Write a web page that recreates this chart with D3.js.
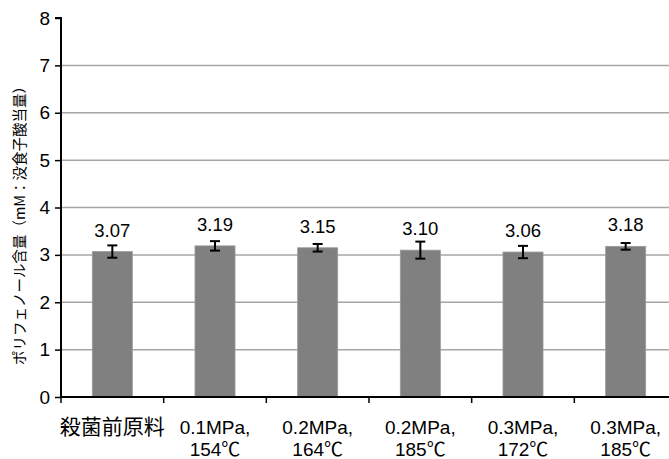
<!DOCTYPE html>
<html><head><meta charset="utf-8">
<script src="https://cdn.jsdelivr.net/npm/d3@7"></script>
<style>body{margin:0;background:#fff}svg{display:block}</style>
</head><body>
<svg id="c" width="669" height="459"></svg>
<script>
const categories = [["殺菌前原料"],["0.1MPa,","154℃"],["0.2MPa,","164℃"],["0.2MPa,","185℃"],["0.3MPa,","172℃"],["0.3MPa,","185℃"]];
const values = [3.07, 3.19, 3.15, 3.10, 3.06, 3.18];
const errors = [0.13, 0.10, 0.08, 0.18, 0.13, 0.07];
const yTicks = [0,1,2,3,4,5,6,7,8];
const yTitle = "ポリフェノール含量（mM：没食子酸当量）";

const svg = d3.select("#c");
const font = "'Liberation Sans','Noto Sans CJK JP',sans-serif";
const L = 61, R = 677, T = 18, B = 397;
const x = d3.scaleBand().domain(d3.range(categories.length)).range([L, R]).paddingInner(0.61).paddingOuter(0.305);
const y = d3.scaleLinear().domain([0, 8]).range([B, T]);

// gridlines
svg.append("g").selectAll("line").data(yTicks.filter(d => d > 0 && d < 8)).join("line")
  .attr("x1", L).attr("x2", 669).attr("y1", d => y(d)).attr("y2", d => y(d))
  .attr("stroke", "#a6a6a6").attr("stroke-width", 1.5);

// bars
svg.append("g").selectAll("rect").data(values).join("rect")
  .attr("x", (d, i) => x(i)).attr("width", x.bandwidth())
  .attr("y", d => y(d)).attr("height", d => B - y(d))
  .attr("fill", "#808080").attr("stroke", "#9a9a9a").attr("stroke-width", 0.8);

// error bars
const eg = svg.append("g").attr("stroke", "#000").attr("stroke-width", 2);
values.forEach((v, i) => {
  const cx = x(i) + x.bandwidth() / 2;
  eg.append("line").attr("x1", cx).attr("x2", cx).attr("y1", y(v + errors[i])).attr("y2", y(v - errors[i]));
  eg.append("line").attr("x1", cx - 5).attr("x2", cx + 5).attr("y1", y(v + errors[i])).attr("y2", y(v + errors[i]));
  eg.append("line").attr("x1", cx - 5).attr("x2", cx + 5).attr("y1", y(v - errors[i])).attr("y2", y(v - errors[i]));
});

// value labels
svg.append("g").selectAll("text").data(values).join("text")
  .attr("x", (d, i) => x(i) + x.bandwidth() / 2).attr("y", d => y(d) - 15)
  .attr("text-anchor", "middle").attr("font-family", font).attr("font-size", 18.5).attr("fill", "#000")
  .text(d => d.toFixed(2));

// y axis
const ya = d3.axisLeft(y).tickValues(yTicks).tickSize(6).tickPadding(5).tickFormat(d3.format("d"));
const yg = svg.append("g").attr("transform", `translate(${L},0)`).call(ya);
yg.select(".domain").attr("stroke", "#000").attr("stroke-width", 2).attr("d", `M-6,${T}H0V${B}`);
yg.selectAll(".tick line").attr("stroke", "#000").attr("stroke-width", 1.5);
yg.selectAll(".tick text").attr("font-family", font).attr("font-size", 19).attr("fill", "#000");

// x axis
svg.append("line").attr("x1", L - 1).attr("x2", 669).attr("y1", B).attr("y2", B).attr("stroke", "#000").attr("stroke-width", 2);
const step = x.step();
svg.append("g").selectAll("line").data(d3.range(categories.length + 1)).join("line")
  .attr("x1", i => L + i * step).attr("x2", i => L + i * step)
  .attr("y1", B).attr("y2", B + 6).attr("stroke", "#000").attr("stroke-width", 1.5);

const xl = svg.append("g").selectAll("text").data(categories).join("text")
  .attr("text-anchor", "middle").attr("font-family", font).attr("font-size", 19).attr("fill", "#000")
  .attr("transform", (d, i) => `translate(${x(i) + x.bandwidth() / 2},0)`);
xl.selectAll("tspan").data(d => d).join("tspan")
  .attr("x", 0).attr("y", (d, j) => 434 + j * 22)
  .attr("font-size", d => /^[0-9.A-Za-z,℃]+$/.test(d) ? 19 : 21)
  .text(d => d);

// y title
svg.append("text").attr("transform", "translate(25,222) rotate(-90)")
  .attr("text-anchor", "middle").attr("font-family", "'Noto Sans CJK JP',sans-serif").attr("font-size", 14.5).attr("fill", "#000")
  .text(yTitle);
</script>
</body></html>
